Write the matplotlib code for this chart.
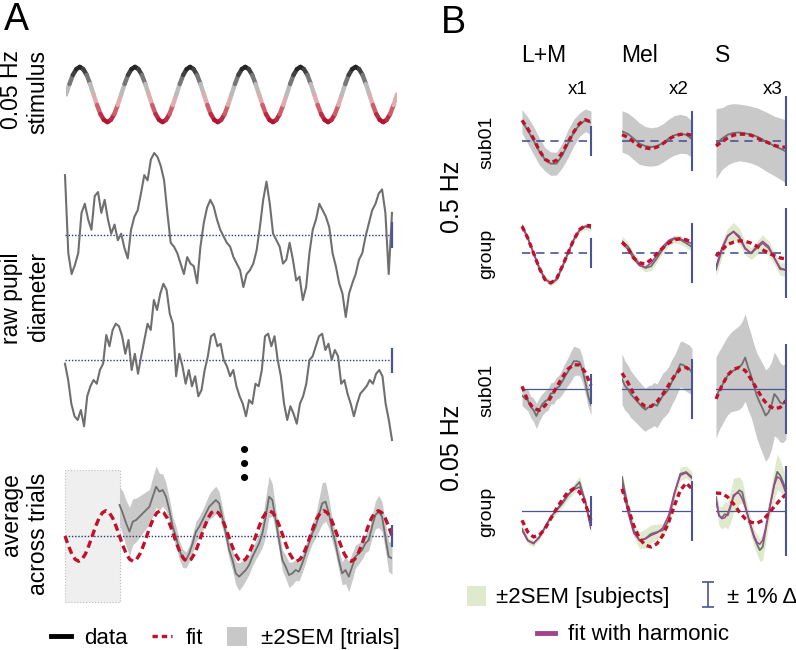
import numpy as np
import matplotlib
matplotlib.use("Agg")
import matplotlib.pyplot as plt
from matplotlib.collections import LineCollection
from matplotlib.colors import LinearSegmentedColormap
from matplotlib.lines import Line2D
from matplotlib.patches import Patch
from matplotlib.legend_handler import HandlerErrorbar

plt.rcParams['font.family'] = ['Liberation Sans', 'DejaVu Sans']

# ---------------- panel A data (percent change, time in s) ----------------
stim_level = [
    0.0, 0.38, 0.71, 0.92, 1.0, 0.92, 0.71, 0.38, 0.0, -0.38, -0.71, -0.92, -1.0, -0.92, -0.71, -0.38,
    0.0, 0.38, 0.71, 0.92, 1.0, 0.92, 0.71, 0.38, 0.0, -0.38, -0.71, -0.92, -1.0, -0.92, -0.71, -0.38,
    0.0, 0.38, 0.71, 0.92, 1.0, 0.92, 0.71, 0.38, 0.0, -0.38, -0.71, -0.92, -1.0, -0.92, -0.71, -0.38,
    0.0, 0.38, 0.71, 0.92, 1.0, 0.92, 0.71, 0.38, 0.0, -0.38, -0.71, -0.92, -1.0, -0.92, -0.71, -0.38,
    0.0, 0.38, 0.71, 0.92, 1.0, 0.92, 0.71, 0.38, 0.0, -0.38, -0.71, -0.92, -1.0, -0.92, -0.71, -0.38,
    0.0, 0.38, 0.71, 0.92, 1.0, 0.92, 0.71, 0.38, 0.0, -0.38, -0.71, -0.92, -1.0, -0.92, -0.71, -0.38,
    0.0]

raw_trial1 = [
    4.6, -1.4, -3.0, -2.3, -1.4, 1.7, 2.4, 1.2, 0.4, 3.0,
    3.3, 1.7, 2.7, 1.2, 0.1, 0.8, -0.4, 0.1, -1.0, -1.8,
    0.4, 1.4, 1.9, 3.2, 4.6, 4.2, 5.8, 6.3, 6.0, 5.3,
    4.2, 1.7, -0.6, -0.9, -1.4, -2.2, -3.0, -1.7, -2.2, -2.4,
    -3.7, -0.9, 0.9, 2.1, 2.7, 2.2, 1.2, 0.4, -0.1, -0.6,
    -0.9, -1.7, -2.2, -2.7, -4.0, -3.0, -2.7, -2.2, -1.2, 0.6,
    2.7, 4.1, 2.4, 0.1, -0.4, -0.9, -2.2, -1.9, -0.6, -1.9,
    -3.5, -3.2, -5.0, -4.0, -1.4, 0.4, 1.2, 2.4, 1.9, 1.4,
    0.6, -1.4, -2.4, -3.7, -4.5, -6.3, -4.5, -3.7, -3.0, -1.9,
    -1.4, -0.1, 0.9, 1.9, 2.4, 3.2, 3.5, 1.7, -3.0, 1.7]

raw_trial2 = [
    -0.3, -1.6, -3.5, -4.5, -4.8, -4.0, -5.3, -2.9, -2.1, -1.6,
    -1.9, -0.8, -0.3, 2.0, 1.1, 2.4, 2.9, 2.7, 1.9, 0.5,
    1.6, -0.8, 0.5, -1.1, 0.3, 1.6, 2.9, 2.4, 4.8, 4.0,
    5.3, 6.1, 5.6, 3.7, 2.9, -1.3, 0.5, -0.5, -1.9, -0.8,
    -2.1, -1.3, -2.9, -2.4, -0.8, 0.3, 1.9, 2.1, 1.1, 1.3,
    0.0, -0.5, -1.3, -0.8, -2.1, -2.9, -3.5, -4.5, -3.2, -3.5,
    -1.9, -2.1, -0.8, 1.9, 2.1, 1.1, 1.9, 0.0, -1.3, -3.5,
    -4.8, -3.7, -4.3, -5.1, -3.5, -2.9, -1.9, 0.0, 0.3, 1.1,
    1.9, 2.1, 0.8, 1.3, 0.0, 0.8, 0.3, -1.9, -1.6, -2.7,
    -3.5, -4.5, -3.5, -2.7, -2.4, -2.1, -1.6, -1.9, -1.1, -0.8,
    -1.3, -3.5, -4.8, -6.4]

avg_data = [
    2.70, 1.97, 1.10, 0.38, 1.25, 1.39, 1.68, 1.97, 2.26, 2.55,
    3.42, 4.29, 3.86, 4.00, 3.42, 2.26, 0.81, -0.06, -1.22, -1.94,
    -2.09, -1.51, -0.64, 0.38, 0.81, 1.39, 1.97, 2.55, 2.84, 3.13,
    2.84, 1.54, 0.23, -1.22, -2.09, -3.25, -3.54, -3.25, -2.96, -2.52,
    -1.80, -1.22, -0.64, 0.23, 1.68, 3.42, 3.13, 1.39, -0.35, -2.09,
    -2.67, -3.39, -3.25, -2.96, -3.10, -2.38, -1.51, -0.64, 0.23, 0.81,
    1.83, 2.84, 2.99, 1.97, 0.52, -0.64, -2.09, -3.25, -2.96, -3.54,
    -2.67, -1.80, -1.51, -1.22, -0.64, -0.35, 0.81, 1.83, 2.12, 1.68,
    -0.06, -1.80, -1.94]

avg_sem = [
    1.6, 1.9, 2.0, 2.1, 2.0, 1.9, 1.8, 1.7, 1.6, 1.5, 1.7, 1.8, 1.6, 1.4, 1.2, 1.0,
    0.9, 0.9, 0.8, 0.8, 0.7, 0.7, 0.8, 0.9, 0.9, 0.9, 1.0, 1.1, 1.2, 1.2, 1.0, 0.9, 0.8,
    0.8, 0.9, 1.0, 1.2, 1.1, 0.9, 0.8, 0.8, 0.8, 0.9, 1.2, 1.7, 1.8, 1.4, 1.0, 0.9,
    0.9, 1.0, 1.1, 1.0, 0.9, 0.8, 0.8, 0.8, 0.8, 0.9, 1.0, 1.4, 1.8, 1.7, 1.3, 1.0,
    0.9, 0.9, 1.0, 1.2, 1.3, 1.2, 1.0, 0.9, 0.8, 0.8, 0.9, 1.0, 1.2, 1.4, 1.3, 1.2, 1.3,
    1.4]

avg_fit = [
    0.0, -0.84, -1.56, -2.03, -2.2, -2.03, -1.56, -0.84, 0.0, 0.84, 1.56, 2.03, 2.2, 2.03, 1.56, 0.84,
    0.0, -0.84, -1.56, -2.03, -2.2, -2.03, -1.56, -0.84, 0.0, 0.84, 1.56, 2.03, 2.2, 2.03, 1.56, 0.84,
    0.0, -0.84, -1.56, -2.03, -2.2, -2.03, -1.56, -0.84, 0.0, 0.84, 1.56, 2.03, 2.2, 2.03, 1.56, 0.84,
    0.0, -0.84, -1.56, -2.03, -2.2, -2.03, -1.56, -0.84, 0.0, 0.84, 1.56, 2.03, 2.2, 2.03, 1.56, 0.84,
    0.0, -0.84, -1.56, -2.03, -2.2, -2.03, -1.56, -0.84, 0.0, 0.84, 1.56, 2.03, 2.2, 2.03, 1.56, 0.84,
    0.0, -0.84, -1.56, -2.03, -2.2, -2.03, -1.56, -0.84, 0.0, 0.84, 1.56, 2.03, 2.2, 2.03, 1.56, 0.84,
    0.0]

# ---------------- panel B data (percent change over one cycle) ----------------
# 0.5 Hz, sub01
lm_f_sub_data = [1.31, 0.71, 0.04, -0.69, -1.22, -1.51, -1.51, -0.96, -0.18, 0.56, 1.09, 1.38, 1.22]
lm_f_sub_fit = [1.38, 0.82, 0.16, -0.62, -1.22, -1.44, -1.29, -0.78, -0.07, 0.60, 1.16, 1.42, 1.27]
lm_f_sub_sem = [0.78, 0.89, 0.93, 0.89, 0.78, 0.78, 0.76, 0.82, 0.93, 0.89, 0.78, 0.76, 0.78]
mel_f_sub_data = [0.32, 0.24, 0.08, -0.09, -0.17, -0.20, -0.17, -0.07, 0.08, 0.19, 0.24, 0.21, 0.06]
mel_f_sub_fit = [0.21, 0.13, -0.03, -0.17, -0.23, -0.26, -0.20, -0.09, 0.06, 0.17, 0.22, 0.23, 0.19]
mel_f_sub_sem = [0.69, 0.69, 0.70, 0.69, 0.65, 0.64, 0.64, 0.64, 0.65, 0.66, 0.65, 0.63, 0.60]
s_f_sub_data = [-0.06, 0.05, 0.14, 0.18, 0.19, 0.17, 0.14, 0.10, 0.03, -0.04, -0.11, -0.17, -0.23]
s_f_sub_fit = [-0.11, -0.02, 0.07, 0.13, 0.15, 0.15, 0.13, 0.07, 0.01, -0.04, -0.10, -0.13, -0.14]
s_f_sub_sem = [0.78, 0.69, 0.67, 0.65, 0.63, 0.63, 0.63, 0.64, 0.65, 0.66, 0.66, 0.68, 0.70]

# 0.5 Hz, group
lm_f_grp_data = [1.82, 1.00, 0.00, -1.00, -1.73, -2.00, -1.78, -0.93, 0.00, 0.89, 1.51, 1.78, 1.67]
lm_f_grp_harm = [1.80, 1.00, 0.00, -1.00, -1.75, -2.00, -1.76, -0.92, 0.00, 0.90, 1.53, 1.78, 1.70]
lm_f_grp_fit = [1.78, 1.00, 0.00, -1.00, -1.78, -2.00, -1.73, -0.89, 0.00, 0.89, 1.56, 1.84, 1.82]
lm_f_grp_sem = [0.22, 0.18, 0.16, 0.16, 0.18, 0.20, 0.18, 0.16, 0.16, 0.16, 0.18, 0.20, 0.22]
mel_f_grp_data = [0.39, 0.22, -0.11, -0.37, -0.50, -0.44, -0.17, 0.13, 0.36, 0.47, 0.44, 0.33, 0.20]
mel_f_grp_harm = [0.33, 0.13, -0.20, -0.42, -0.48, -0.33, -0.06, 0.22, 0.42, 0.50, 0.47, 0.39, 0.31]
mel_f_grp_fit = [0.36, 0.17, -0.17, -0.33, -0.36, -0.22, -0.02, 0.17, 0.33, 0.44, 0.48, 0.44, 0.36]
mel_f_grp_sem = [0.18, 0.15, 0.13, 0.12, 0.13, 0.14, 0.13, 0.12, 0.12, 0.13, 0.14, 0.15, 0.16]
s_f_grp_data = [-0.37, 0.07, 0.37, 0.48, 0.37, 0.11, -0.01, 0.11, 0.22, 0.11, -0.11, -0.36, -0.37]
s_f_grp_harm = [-0.30, 0.11, 0.39, 0.47, 0.33, 0.09, 0.00, 0.15, 0.26, 0.15, -0.11, -0.33, -0.39]
s_f_grp_fit = [-0.07, 0.07, 0.19, 0.24, 0.27, 0.26, 0.22, 0.15, 0.07, 0.00, -0.06, -0.11, -0.13]
s_f_grp_sem = [0.15, 0.16, 0.18, 0.20, 0.18, 0.15, 0.13, 0.15, 0.18, 0.16, 0.14, 0.14, 0.15]

# 0.05 Hz, sub01
lm_s_sub_data = [-0.44, -0.62, -0.74, -1.18, -1.40, -1.80, -1.38, -1.05, -0.82, -0.72, -0.30, -0.27, 0.05,
                 0.18, 0.50, 0.85, 1.16, 1.50, 1.85, 1.86, 1.80, 1.30, 0.48, -0.46, -1.07]
lm_s_sub_fit = [0.18, -0.78, -1.29, -1.42, -1.11, -0.56, 0.11, 0.78, 1.33, 1.62, 1.60, 1.11, 0.22]
lm_s_sub_sem = [0.67, 0.67, 0.71, 0.71, 0.78, 0.84, 0.78, 0.73, 0.71, 0.71, 0.71, 0.73, 0.73,
                0.78, 0.84, 0.89, 0.93, 1.00, 1.00, 0.93, 0.89, 0.84, 0.78, 0.71, 0.67]
mel_s_sub_data = [0.33, 0.11, 0.00, -0.17, -0.28, -0.39, -0.50, -0.61, -0.69, -0.61, -0.58, -0.50, -0.56,
                  -0.39, -0.22, -0.13, 0.00, 0.22, 0.39, 0.61, 0.83, 0.80, 0.72, 0.67, 0.56]
mel_s_sub_fit = [0.53, 0.22, -0.17, -0.44, -0.58, -0.58, -0.42, -0.17, 0.13, 0.44, 0.67, 0.72, 0.58]
mel_s_sub_sem = [0.85, 0.82, 0.80, 0.78, 0.76, 0.75, 0.74, 0.73, 0.72, 0.72, 0.71, 0.72, 0.73,
                 0.74, 0.75, 0.75, 0.75, 0.75, 0.74, 0.74, 0.76, 0.78, 0.80, 0.80, 0.78]
s_s_sub_data = [-0.19, -0.04, 0.07, 0.19, 0.30, 0.37, 0.41, 0.44, 0.48, 0.56, 0.70, 0.48, 0.30,
                0.07, -0.15, -0.30, -0.44, -0.59, -0.52, -0.37, -0.11, -0.19, -0.30, -0.33, -0.26]
s_s_sub_fit = [-0.22, 0.07, 0.31, 0.44, 0.48, 0.41, 0.22, 0.00, -0.22, -0.37, -0.44, -0.41, -0.26]
s_s_sub_sem = [0.90, 0.88, 0.87, 0.87, 0.87, 0.88, 0.90, 0.92, 0.93, 0.95, 0.97, 0.95, 0.92,
               0.92, 0.95, 0.98, 1.00, 1.02, 1.00, 0.97, 0.93, 0.90, 0.88, 0.86, 0.85]

# 0.05 Hz, group
lm_s_grp_data = [-1.18, -1.96, -2.18, -1.73, -1.07, -0.40, 0.04, 0.49, 1.04, 1.49, 1.93, 0.60, -1.18]
lm_s_grp_harm = [-1.29, -1.96, -2.13, -1.78, -1.11, -0.44, 0.09, 0.60, 1.11, 1.42, 1.60, 0.71, -1.11]
lm_s_grp_fit = [-0.62, -1.40, -1.73, -1.62, -1.18, -0.51, 0.16, 0.76, 1.27, 1.49, 1.27, 0.49, -0.62]
lm_s_grp_sem = [0.25, 0.22, 0.20, 0.20, 0.20, 0.20, 0.22, 0.25, 0.28, 0.32, 0.38, 0.30, 0.25]
mel_s_grp_data = [1.13, 0.13, -0.64, -0.98, -0.92, -0.76, -0.70, -0.64, -0.31, 0.58, 1.24, 1.30, 1.13]
mel_s_grp_harm = [0.91, -0.03, -0.73, -0.98, -0.93, -0.81, -0.73, -0.56, -0.14, 0.63, 1.19, 1.27, 1.08]
mel_s_grp_fit = [0.74, 0.13, -0.48, -0.92, -1.14, -1.20, -1.09, -0.81, -0.37, 0.19, 0.69, 0.93, 0.74]
mel_s_grp_sem = [0.20, 0.20, 0.22, 0.28, 0.32, 0.30, 0.26, 0.22, 0.20, 0.20, 0.22, 0.20, 0.18]
s_s_grp_data = [0.31, -0.10, -0.15, -0.07, -0.10, 0.09, 0.35, 0.39, 0.46, 0.42, 0.13, -0.13, -0.36,
                -0.58, -0.73, -0.87, -0.80, -0.43, -0.06, 0.27, 0.61, 0.87, 0.79, 0.64, 0.46]
s_s_grp_harm = [0.24, -0.10, -0.17, -0.15, -0.06, 0.13, 0.31, 0.40, 0.39, 0.27, 0.09, -0.12, -0.34,
                -0.54, -0.69, -0.74, -0.65, -0.39, -0.06, 0.27, 0.57, 0.76, 0.72, 0.57, 0.39]
s_s_grp_fit = [0.40, 0.39, 0.31, 0.16, -0.02, -0.17, -0.25, -0.27, -0.21, -0.06, 0.10, 0.25, 0.37]
s_s_grp_sem = [0.20, 0.22, 0.25, 0.28, 0.30, 0.35, 0.38, 0.35, 0.30, 0.25, 0.22, 0.20, 0.20,
               0.20, 0.22, 0.25, 0.30, 0.28, 0.25, 0.30, 0.35, 0.40, 0.35, 0.30, 0.25]

col_names = ["L+M", "Mel", "S"]
col_gain = ["x1", "x2", "x3"]

# colours
GRAY_LINE = '#6f6f6f'
GRAY_BAND = '#c9c9c9'
GREEN_BAND = '#dfe9cc'
RED = '#c0102a'
PURPLE = '#a0448f'
BLUE = '#4a5499'
DOT_BLUE = '#2e3580'

W, H = 796, 650
fig = plt.figure(figsize=(W / 100, H / 100), dpi=100)


def px_axes(x0, y0, x1, y1):
    # axes placed by pixel box (top-left origin)
    ax = fig.add_axes([x0 / W, 1 - y1 / H, (x1 - x0) / W, (y1 - y0) / H])
    ax.set_axis_off()
    return ax


def fy(y):
    return 1 - y / H


# ---------------- panel A ----------------
fig.text(4 / W, fy(20), "A", fontsize=27, va='center', ha='left')

stim_cmap = LinearSegmentedColormap.from_list(
    'stim', [(0, '#b20c2a'), (0.3, '#d8787f'), (0.5, '#e0e0e0'), (0.72, '#8c8c8c'), (1, '#1e1e1e')])
ax = px_axes(66, 60, 397, 129)
st = np.array(stim_level)
t = np.linspace(0, 120, len(st))
pts = np.column_stack([t, st]).reshape(-1, 1, 2)
segs = np.concatenate([pts[:-1], pts[1:]], axis=1)
lc = LineCollection(segs, cmap=stim_cmap, norm=plt.Normalize(-1, 1), linewidth=3.2, capstyle='round')
lc.set_array((st[:-1] + st[1:]) / 2)
ax.add_collection(lc)
ax.set_xlim(0, 120)
ax.set_ylim(-1.25, 1.25)

for vals, (y0, y1), lim in [(raw_trial1, (140, 330), 7.3), (raw_trial2, (270, 450), 7.2)]:
    ax = px_axes(65, y0, 392, y1)
    tr = np.linspace(0, 120, len(vals))
    ax.axhline(0, color=DOT_BLUE, lw=1.0, ls=(0, (1, 1.3)), zorder=1)
    ax.plot(tr, vals, color=GRAY_LINE, lw=1.5, zorder=2, clip_on=False)
    ax.vlines(120, -1, 1, color=BLUE, lw=1.6, zorder=3, clip_on=False)
    ax.set_xlim(0, 120)
    ax.set_ylim(-lim, lim)

ax = px_axes(65, 466, 392, 606)
ax.axvspan(0, 20, ymin=0.03, ymax=0.97, facecolor='#efefef', edgecolor='#bdbdbd', lw=0.8, ls=':')
ta = np.linspace(20, 120, len(avg_data))
ad = np.array(avg_data)
asem = np.array(avg_sem)
ax.fill_between(ta, ad - asem, ad + asem, color=GRAY_BAND, lw=0, zorder=1)
ax.axhline(0, color=DOT_BLUE, lw=1.0, ls=(0, (1, 1.3)), zorder=2)
ax.plot(ta, ad, color=GRAY_LINE, lw=1.3, zorder=3)
tf = np.linspace(0, 120, len(avg_fit))
ax.plot(tf, avg_fit, color=RED, lw=2.4, dashes=(2.2, 1.3), zorder=4, clip_on=False)
ax.vlines(120, -1, 1, color=BLUE, lw=1.6, zorder=5, clip_on=False)
ax.set_xlim(0, 120)
ax.set_ylim(-6.09, 6.09)

fig.text(245 / W, fy(465), "\u2022\n\u2022\n\u2022", ha='center', va='center', fontsize=19, linespacing=0.45)

lab_kw = dict(rotation=90, ha='center', va='center', fontsize=16.5, multialignment='right', linespacing=1.2)
fig.text(25 / W, fy(92), "0.05 Hz\nstimulus", **lab_kw)
fig.text(25 / W, fy(298), "raw pupil\ndiameter", **lab_kw)
fig.text(25 / W, fy(534), "average\nacross trials", **lab_kw)

leg_a = [Line2D([], [], color='black', lw=3.5),
         Line2D([], [], color=RED, lw=2.4, dashes=(1.6, 1.2)),
         Patch(facecolor='#c8c8c8', edgecolor='none')]
fig.legend(leg_a, ['data', 'fit', '\u00b12SEM [trials]'], loc='center', bbox_to_anchor=(225 / W, fy(638)),
           ncol=3, frameon=False, fontsize=16, handlelength=0.9, handleheight=0.9, handletextpad=0.6,
           columnspacing=1.1, borderpad=0, borderaxespad=0)

# ---------------- panel B ----------------
fig.text(441 / W, fy(23), "B", fontsize=27, va='center', ha='left')

cols = [(522, 591, 15), (622, 692, 30), (716, 786, 45)]
rows = [(141, 2, True), (253, 2, True), (389, 20, False), (511, 20, False)]

panels = [
    (0, 0, lm_f_sub_data, lm_f_sub_fit, lm_f_sub_sem, None),
    (0, 1, mel_f_sub_data, mel_f_sub_fit, mel_f_sub_sem, None),
    (0, 2, s_f_sub_data, s_f_sub_fit, s_f_sub_sem, None),
    (1, 0, lm_f_grp_data, lm_f_grp_fit, lm_f_grp_sem, lm_f_grp_harm),
    (1, 1, mel_f_grp_data, mel_f_grp_fit, mel_f_grp_sem, mel_f_grp_harm),
    (1, 2, s_f_grp_data, s_f_grp_fit, s_f_grp_sem, s_f_grp_harm),
    (2, 0, lm_s_sub_data, lm_s_sub_fit, lm_s_sub_sem, None),
    (2, 1, mel_s_sub_data, mel_s_sub_fit, mel_s_sub_sem, None),
    (2, 2, s_s_sub_data, s_s_sub_fit, s_s_sub_sem, None),
    (3, 0, lm_s_grp_data, lm_s_grp_fit, lm_s_grp_sem, lm_s_grp_harm),
    (3, 1, mel_s_grp_data, mel_s_grp_fit, mel_s_grp_sem, mel_s_grp_harm),
    (3, 2, s_s_grp_data, s_s_grp_fit, s_s_grp_sem, s_s_grp_harm),
]

for r, c, data, fit, sem, harm in panels:
    base, T, fast = rows[r]
    x0, x1, scale = cols[c]
    ax = px_axes(x0, base - 80, x1, base + 80)
    d = np.array(data)
    s = np.array(sem)
    td = np.linspace(0, T, len(d))
    band = GRAY_BAND if harm is None else GREEN_BAND
    ax.fill_between(td, d - s, d + s, color=band, lw=0, zorder=1)
    if fast:
        ax.axhline(0, color=BLUE, lw=1.2, dashes=(5, 3.5), zorder=2)
    else:
        ax.axhline(0, color=BLUE, lw=0.9, zorder=2)
    ax.plot(td, d, color=GRAY_LINE, lw=1.3, zorder=3)
    if harm is not None:
        ax.plot(np.linspace(0, T, len(harm)), harm, color=PURPLE, lw=1.1, zorder=4)
    ax.plot(np.linspace(0, T, len(fit)), fit, color=RED, lw=2.4, dashes=(1.6, 1.1), zorder=5,
            clip_on=False)
    ax.vlines(T, -1, 1, color=BLUE, lw=1.5, zorder=6, clip_on=False)
    ax.set_xlim(0, T)
    ax.set_ylim(-80 / scale, 80 / scale)

for (x0, x1, scale), name, gain in zip(cols, col_names, col_gain):
    fig.text((x0 - 1) / W, fy(55), name, fontsize=16.5, ha='left', va='center')
    fig.text((x1 - 3) / W, fy(89), gain, fontsize=13.5, ha='right', va='center')

row_kw = dict(rotation=90, ha='center', va='center', fontsize=14)
for (base, T, fast), name in zip(rows, ["sub01", "group", "sub01", "group"]):
    fig.text(487 / W, fy(base + 1), name, **row_kw)
fig.text(452 / W, fy(197), "0.5 Hz", rotation=90, ha='center', va='center', fontsize=18)
fig.text(452 / W, fy(448), "0.05 Hz", rotation=90, ha='center', va='center', fontsize=18)

dummy = fig.add_axes([0, 0, 0.001, 0.001])
dummy.set_axis_off()
eb = dummy.errorbar([np.nan], [np.nan], yerr=[1.0], fmt='none', ecolor=BLUE, elinewidth=1.2,
                    capsize=4, capthick=1.2)
fig.legend([Patch(facecolor=GREEN_BAND, edgecolor='none'), eb],
           ['\u00b12SEM [subjects]', '\u00b1 1% \u0394'],
           handler_map={type(eb): HandlerErrorbar(yerr_size=0.55)},
           loc='center', bbox_to_anchor=(632 / W, fy(597)), ncol=2, frameon=False, fontsize=16,
           handlelength=0.85, handleheight=1.05, handletextpad=0.45, columnspacing=1.3,
           borderpad=0, borderaxespad=0)
fig.legend([Line2D([], [], color=PURPLE, lw=3.5)], ['fit with harmonic'],
           loc='center', bbox_to_anchor=(633 / W, fy(635)), frameon=False, fontsize=16,
           handlelength=0.8, handletextpad=0.6, borderpad=0, borderaxespad=0)

fig.savefig("out.png", dpi=100)
